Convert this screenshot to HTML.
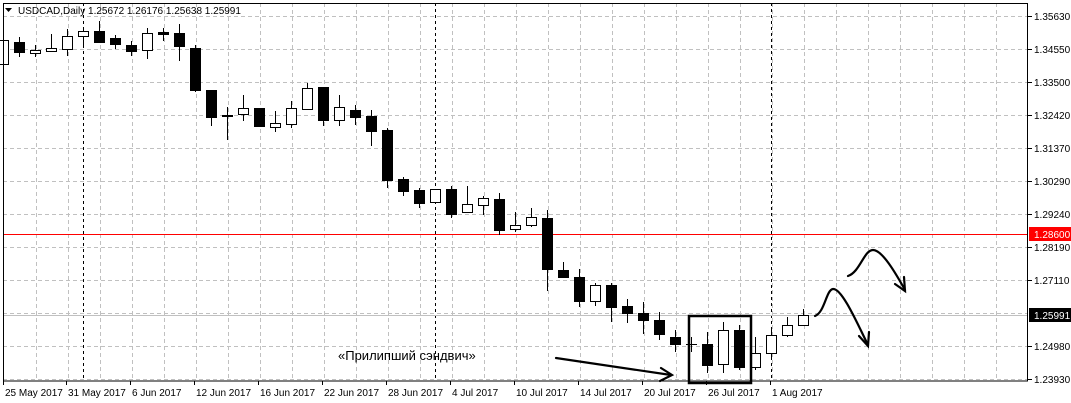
<!DOCTYPE html>
<html><head><meta charset="utf-8"><style>
body{margin:0;background:#fff;}
svg{display:block;font-family:"Liberation Sans","DejaVu Sans",sans-serif;}
</style></head><body>
<svg id="s" width="1071" height="403" viewBox="0 0 1071 403" xmlns="http://www.w3.org/2000/svg">
<rect width="1071" height="403" fill="#fff"/>
<g id="grid" stroke="#c0c0c0" stroke-dasharray="4,3" stroke-width="1"></g>
<g id="vd" stroke="#000" stroke-dasharray="3,3" stroke-width="1">
<line x1="83.5" y1="3" x2="83.5" y2="381"/><line x1="435.5" y1="3" x2="435.5" y2="381"/><line x1="771.5" y1="3" x2="771.5" y2="381"/>
</g>
<line x1="3" y1="234.5" x2="1028" y2="234.5" stroke="#f00" stroke-width="1"/>
<line x1="3" y1="315.5" x2="1028" y2="315.5" stroke="#c0c0c0" stroke-width="1"/>
<g id="c" stroke="#000" stroke-width="1"></g>
<rect x="3.5" y="3.5" width="1024" height="377.5" fill="none" stroke="#000"/>
<g id="ax" font-size="10" fill="#000"></g>
<rect x="1029" y="227" width="42" height="14" fill="#f00"/>
<text x="1034" y="238" font-size="10" fill="#fff">1.28600</text>
<rect x="1029" y="308" width="42" height="14" fill="#000"/>
<text x="1034" y="319" font-size="10" fill="#fff">1.25991</text>
<polygon points="5,8 12,8 8.5,12" fill="#000"/>
<text x="18" y="14" font-size="10" fill="#000">USDCAD,Daily  1.25672 1.26176 1.25638 1.25991</text>
<rect x="689" y="316" width="62" height="67" fill="none" stroke="#000" stroke-width="2.5"/>
<text x="338" y="360" font-size="13" fill="#000">«Прилипший сэндвич»</text>
<g stroke="#000" stroke-width="2.2" fill="none" stroke-linecap="round">
<path d="M556,358 L671,375"/><path d="M661,368 L672,375 L660,381"/>
<path d="M815,316 C825,312 826,290 833,289 C842,288 858,325 868,345"/><path d="M859,336 L868,346 L869,332"/>
<path d="M848,276 C860,272 864,250 873,250 C882,250 895,272 905,290"/><path d="M895,284 L905,291 L904,277"/>
</g>
</svg>
<script>
var ns="http://www.w3.org/2000/svg";
function el(p,t,a){var e=document.createElementNS(ns,t);for(var k in a)e.setAttribute(k,a[k]);p.appendChild(e);return e;}
var g=document.getElementById('grid');
var ys=[16,49,82,115,148,181,214,247,280,313,346,379];
ys.forEach(function(y){el(g,'line',{x1:3,y1:y+.5,x2:1028,y2:y+.5});});
for(var x=36;x<1028;x+=32){el(g,'line',{x1:x+.5,y1:3,x2:x+.5,y2:381});}
var ax=document.getElementById('ax');
var labs=["1.35630","1.34550","1.33500","1.32420","1.31370","1.30290","1.29240","1.28190","1.27110","1.25991","1.24980","1.23930"];
ys.forEach(function(y,i){if(i==9)return;el(ax,'line',{x1:1028,y1:y+.5,x2:1032,y2:y+.5,stroke:'#000'});var t=el(ax,'text',{x:1034,y:y+4});t.textContent=labs[i];});
var dates=[[3,"25 May 2017"],[66,"31 May 2017"],[130,"6 Jun 2017"],[194,"12 Jun 2017"],[258,"16 Jun 2017"],[322,"22 Jun 2017"],[386,"28 Jun 2017"],[450,"4 Jul 2017"],[514,"10 Jul 2017"],[578,"14 Jul 2017"],[642,"20 Jul 2017"],[706,"26 Jul 2017"],[770,"1 Aug 2017"]];
dates.forEach(function(d){el(ax,'line',{x1:d[0]+.5,y1:381,x2:d[0]+.5,y2:385,stroke:'#000'});var t=el(ax,'text',{x:d[0]+2,y:396});t.textContent=d[1];});
// [white?, top, bottom, high, low]
var C=[[1,40,64,40,70],[0,42,52,37,57],[1,50,53,45,57],[1,48,51,34,52],[1,36,49,29,56],[1,31,36,27,47],[0,31,42,21,42],[0,38,44,35,49],[0,45,51,41,56],[1,33,50,28,59],[0,32,34,28,41],[0,33,46,24,61],[0,48,90,45,92],[0,90,117,90,126],[0,115,116,107,140],[1,108,114,95,121],[0,108,126,108,126],[1,123,127,111,132],[1,108,124,101,128],[1,88,109,83,110],[0,87,120,87,126],[1,107,120,95,126],[0,110,117,105,125],[0,116,131,110,146],[0,130,180,128,188],[0,179,191,177,196],[0,190,203,188,208],[1,189,202,189,202],[0,189,214,186,218],[1,204,212,186,213],[1,198,205,196,215],[0,199,230,193,235],[1,225,229,212,232],[1,217,225,208,227],[0,218,269,210,291],[0,270,277,262,277],[0,277,301,269,307],[1,285,301,283,306],[0,285,307,283,322],[0,306,313,299,323],[0,313,320,302,334],[0,320,334,312,340],[0,337,344,330,352],[2,344,344,337,352],[0,344,365,332,373],[1,330,364,322,373],[0,330,367,325,370],[1,353,367,337,370],[1,335,353,327,357],[1,325,335,317,337],[1,315,325,309,326]];
var cg=document.getElementById('c');
C.forEach(function(c,k){var x=3+16*k;
el(cg,'line',{x1:x+.5,y1:c[3],x2:x+.5,y2:c[4]});
if(c[0]==2){el(cg,'line',{x1:x-5,y1:c[1]+.5,x2:x+6,y2:c[1]+.5});return;}
el(cg,'rect',{x:x-4.5,y:c[1]+.5,width:10,height:Math.max(1,c[2]-c[1]),fill:c[0]?'#fff':'#000'});});
</script>
</body></html>
